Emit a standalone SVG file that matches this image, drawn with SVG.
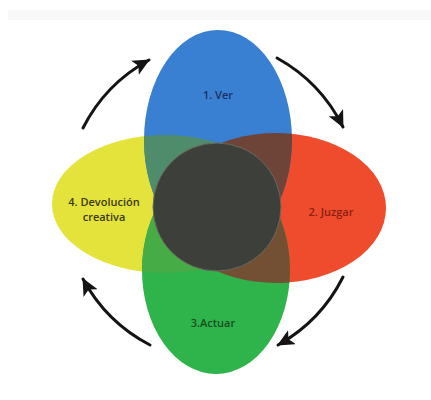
<svg xmlns="http://www.w3.org/2000/svg" width="431" height="400" viewBox="0 0 431 400">
<defs>
<style>
.lbl{font-family:"Open Sans","Liberation Sans",sans-serif;font-size:11px;font-weight:600;text-anchor:middle}
.arc{fill:none;stroke:#141414;stroke-width:3;stroke-linecap:round;marker-end:url(#head)}
</style>
<marker id="head" markerUnits="userSpaceOnUse" markerWidth="20" markerHeight="18" refX="16" refY="8" orient="auto">
<path d="M0,0 L17,8 L0,16 L4,8 Z" fill="#141414"/>
</marker>
<clipPath id="cBlue"><ellipse cx="218" cy="140" rx="74" ry="110"/></clipPath>
<clipPath id="cGreen"><ellipse cx="216" cy="270" rx="74" ry="104"/></clipPath>
</defs>
<rect width="431" height="400" fill="#ffffff"/>
<rect x="8" y="10" width="423" height="10" fill="#f8f8f8"/>
<g id="devolucion">
<ellipse cx="165" cy="204" rx="113" ry="69" fill="#e3e33c"/>
</g>
<g id="juzgar">
<ellipse cx="276" cy="208" rx="110" ry="75" fill="#ef4c2e"/>
</g>
<g id="ver">
<ellipse cx="218" cy="140" rx="74" ry="110" fill="#3a80d2"/>
</g>
<g id="actuar">
<ellipse cx="216" cy="270" rx="74" ry="104" fill="#2fb44c"/>
</g>
<g id="overlaps">
<ellipse cx="216" cy="270" rx="74" ry="104" fill="#2f8f7c" clip-path="url(#cBlue)"/>
<ellipse cx="165" cy="204" rx="113" ry="69" fill="#4e8c6c" clip-path="url(#cBlue)"/>
<ellipse cx="276" cy="208" rx="110" ry="75" fill="#6e4338" clip-path="url(#cBlue)"/>
<ellipse cx="165" cy="204" rx="113" ry="69" fill="#45ac46" clip-path="url(#cGreen)"/>
<ellipse cx="276" cy="208" rx="110" ry="75" fill="#735034" clip-path="url(#cGreen)"/>
</g>
<g id="centro">
<circle cx="217" cy="207" r="64" fill="#3d3f3b" stroke="#6b6a5e" stroke-width="1"/>
</g>
<g id="connectors">
<path class="arc" d="M83,128 A160,160 0 0 1 149,60"/>
<path class="arc" d="M277,58 A160,160 0 0 1 343,127"/>
<path class="arc" d="M343,277 A160,160 0 0 1 278,345"/>
<path class="arc" d="M150,345 A160,160 0 0 1 83,279"/>
</g>
<g id="labels">
<text class="lbl" x="218" y="99" fill="#1b2f63">1. Ver</text>
<text class="lbl" x="331" y="216" fill="#8a1f10">2. Juzgar</text>
<text class="lbl" x="213" y="327" fill="#184d1e">3.Actuar</text>
<text class="lbl" x="104" y="206" fill="#3a3a10">4. Devolución</text>
<text class="lbl" x="104" y="221" fill="#3a3a10">creativa</text>
</g>
</svg>
